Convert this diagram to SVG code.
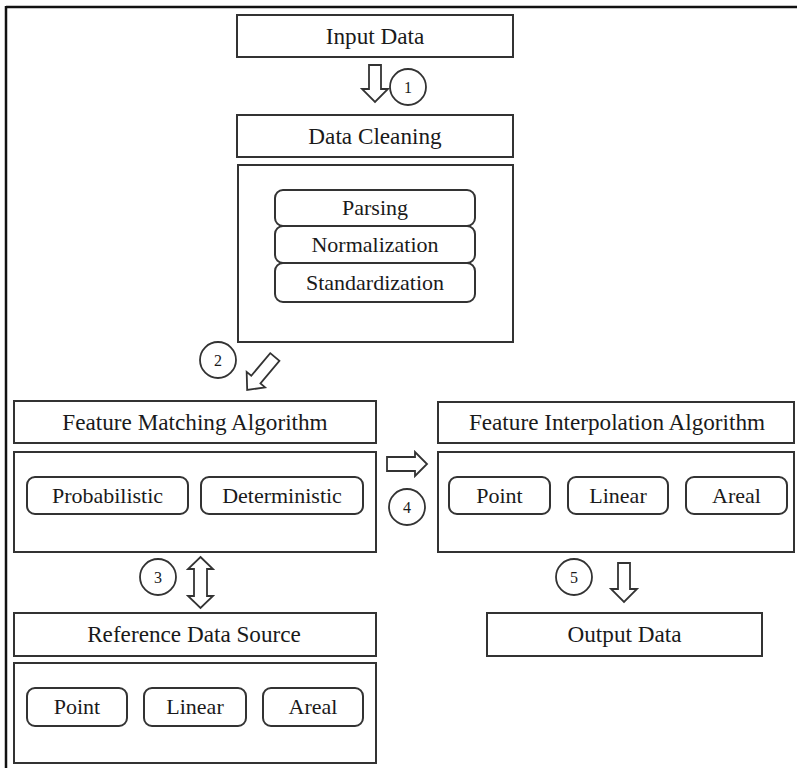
<svg xmlns="http://www.w3.org/2000/svg" width="797" height="768" viewBox="0 0 797 768">
<style>
.box{fill:#fff;stroke:#333;stroke-width:2}
.rbox{fill:#fff;stroke:#333;stroke-width:2}
text{font-family:'Liberation Serif','DejaVu Serif',serif}
.t{font-size:22px;fill:#1a1a1a;text-anchor:middle}
.h{font-size:23.2px;fill:#1a1a1a;text-anchor:middle}
.n{font-size:16px;fill:#1a1a1a;text-anchor:middle}
.circ{fill:#fff;stroke:#333;stroke-width:1.8}
.arr{fill:#fff;stroke:#333;stroke-width:1.8;stroke-linejoin:miter}
.frame{stroke:#111;stroke-width:2.5;fill:none}
</style>
<rect width="797" height="768" fill="#fff"/>
<g id="frame">
<line class="frame" x1="6" y1="7" x2="797" y2="7"/>
<line class="frame" x1="6" y1="6" x2="6" y2="768"/>
</g>
<g id="input-data">
<rect class="box" x="237" y="15" width="276" height="42"/>
<text class="h" x="375" y="44">Input Data</text>
</g>
<g id="data-cleaning">
<rect class="box" x="237" y="115" width="276" height="42"/>
<text class="h" x="375" y="144">Data Cleaning</text>
</g>
<g id="data-cleaning-body">
<rect class="box" x="238" y="165" width="275" height="177"/>
<rect class="rbox" x="275" y="190" width="200" height="36" rx="8"/>
<text class="t" x="375" y="215">Parsing</text>
<rect class="rbox" x="275" y="226" width="200" height="37" rx="8"/>
<text class="t" x="375" y="252">Normalization</text>
<rect class="rbox" x="275" y="263" width="200" height="39" rx="8"/>
<text class="t" x="375" y="290">Standardization</text>
</g>
<g id="feature-matching">
<rect class="box" x="14" y="401" width="362" height="42"/>
<text class="h" x="195" y="430">Feature Matching Algorithm</text>
</g>
<g id="feature-matching-body">
<rect class="box" x="14" y="452" width="362" height="100"/>
<rect class="rbox" x="27" y="477" width="161" height="37" rx="8"/>
<text class="t" x="107.5" y="503">Probabilistic</text>
<rect class="rbox" x="201" y="477" width="162" height="37" rx="8"/>
<text class="t" x="282" y="503">Deterministic</text>
</g>
<g id="feature-interpolation">
<rect class="box" x="438" y="402" width="356" height="41"/>
<text class="h" x="617" y="430">Feature Interpolation Algorithm</text>
</g>
<g id="feature-interpolation-body">
<rect class="box" x="438" y="452" width="356" height="100"/>
<rect class="rbox" x="449" y="477" width="101" height="37" rx="8"/>
<text class="t" x="499.5" y="503">Point</text>
<rect class="rbox" x="568" y="477" width="100" height="37" rx="8"/>
<text class="t" x="618" y="503">Linear</text>
<rect class="rbox" x="686" y="477" width="101" height="37" rx="8"/>
<text class="t" x="736.5" y="503">Areal</text>
</g>
<g id="reference-data-source">
<rect class="box" x="14" y="613" width="362" height="43"/>
<text class="h" x="194" y="642">Reference Data Source</text>
</g>
<g id="reference-data-body">
<rect class="box" x="14" y="663" width="362" height="100"/>
<rect class="rbox" x="27" y="688" width="100" height="38" rx="8"/>
<text class="t" x="77" y="714">Point</text>
<rect class="rbox" x="144" y="688" width="102" height="38" rx="8"/>
<text class="t" x="195" y="714">Linear</text>
<rect class="rbox" x="263" y="688" width="100" height="38" rx="8"/>
<text class="t" x="313" y="714">Areal</text>
</g>
<g id="output-data">
<rect class="box" x="487" y="613" width="275" height="43"/>
<text class="h" x="624.5" y="642">Output Data</text>
</g>
<g id="connectors">
<polygon class="arr" points="369,65 381,65 381,89 388,89 375,102 362,89 369,89"/>
<circle class="circ" cx="408" cy="87" r="18"/>
<text class="n" x="408" y="93">1</text>
<g transform="translate(261,373.5) rotate(40)">
<polygon class="arr" points="-6,-21.5 6,-21.5 6,8 12,8 0,21.5 -12,8 -6,8"/>
</g>
<circle class="circ" cx="218" cy="360" r="18"/>
<text class="n" x="218" y="366">2</text>
<polygon class="arr" points="200.5,557 213,569 207,569 207,596 213,596 200.5,608 188,596 194,596 194,569 188,569"/>
<circle class="circ" cx="158" cy="577" r="18"/>
<text class="n" x="158" y="583">3</text>
<polygon class="arr" points="387,457 415,457 415,452 427,464 415,476 415,471 387,471"/>
<circle class="circ" cx="407" cy="507" r="18"/>
<text class="n" x="407" y="513">4</text>
<polygon class="arr" points="618,563 630,563 630,589 637,589 624,602 611,589 618,589"/>
<circle class="circ" cx="574" cy="577" r="18"/>
<text class="n" x="574" y="583">5</text>
</g>
</svg>
